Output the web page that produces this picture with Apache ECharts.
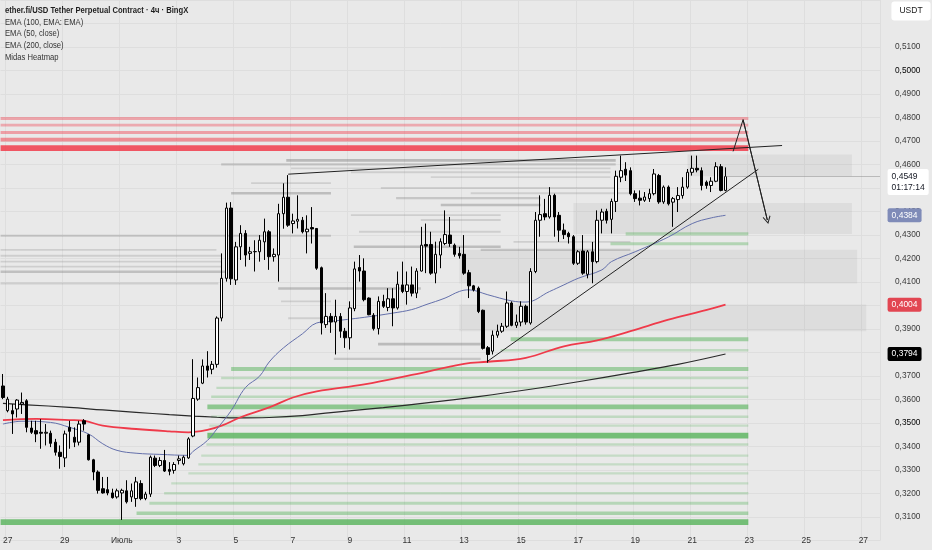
<!DOCTYPE html>
<html><head><meta charset="utf-8">
<script src="https://cdn.jsdelivr.net/npm/echarts/dist/echarts.min.js"></script>
<style>html,body{margin:0;padding:0;background:#e9e9e9}#c{width:932px;height:550px}</style>
</head><body><div id="c"></div>
<script>
// ---------- DATA ----------
// 4h candles starting 26 Jun 20:00, rows: [open, high, low, close]
const ohlc = [
[.3658,.3709,.3602,.3609],[.3553,.3612,.3546,.3602],[.3553,.3581,.3454,.3539],[.3560,.3602,.3524,.3598],
[.3581,.3630,.3539,.3588],[.3595,.3602,.3461,.3482],[.3479,.3510,.3454,.3461],[.3468,.3510,.3419,.3454],
[.3461,.3517,.3391,.3457],[.3457,.3496,.3405,.3461],[.3457,.3468,.3398,.3414],[.3419,.3433,.3362,.3376],
[.3376,.3405,.3306,.3358],[.3352,.3468,.3313,.3454],[.3482,.3510,.3391,.3465],[.3440,.3482,.3398,.3419],
[.3419,.3510,.3405,.3496],[.3510,.3517,.3468,.3496],[.3450,.3454,.3341,.3344],[.3344,.3348,.3257,.3292],
[.3292,.3299,.3200,.3214],[.3221,.3271,.3200,.3203],[.3217,.3271,.3193,.3203],[.3203,.3221,.3179,.3183],
[.3186,.3221,.3179,.3212],[.3203,.3221,.3088,.3214],[.3212,.3257,.3158,.3165],[.3186,.3243,.3165,.3212],
[.3179,.3271,.3144,.3250],[.3243,.3257,.3172,.3179],[.3179,.3208,.3172,.3198],[.3198,.3362,.3186,.3355],
[.3351,.3362,.3313,.3320],[.3320,.3355,.3313,.3341],[.3341,.3386,.3292,.3296],[.3303,.3334,.3278,.3295],
[.3299,.3334,.3285,.3324],[.3341,.3362,.3324,.3348],[.3327,.3362,.3320,.3355],[.3352,.3440,.3348,.3433],
[.3445,.3772,.3440,.3605],[.3602,.3694,.3595,.3651],[.3670,.3771,.3666,.3743],[.3743,.3806,.3694,.3725],
[.3729,.3764,.3708,.3750],[.3750,.3954,.3736,.3947],[.3947,.4222,.3933,.4116],[.4116,.4438,.4102,.4415],
[.4415,.4440,.4088,.4114],[.4109,.4271,.4088,.4250],[.4250,.4342,.4194,.4307],[.4307,.4321,.4166,.4215],
[.4222,.4250,.4194,.4229],[.4229,.4278,.4145,.4230],[.4229,.4300,.4187,.4278],[.4271,.4370,.4194,.4314],
[.4314,.4321,.4152,.4208],[.4208,.4243,.4187,.4218],[.4215,.4433,.4102,.4391],[.4391,.4520,.4327,.4461],
[.4461,.4555,.4335,.4342],[.4349,.4391,.4307,.4360],[.4359,.4469,.4328,.4367],[.4363,.4377,.4307,.4314],
[.4314,.4384,.4222,.4325],[.4332,.4419,.4264,.4326],[.4328,.4330,.4152,.4159],[.4161,.4166,.3877,.3926],
[.3919,.4053,.3905,.3954],[.3954,.3968,.3884,.3930],[.3930,.4025,.3792,.3954],[.3954,.3968,.3863,.3891],
[.3891,.3905,.3820,.3863],[.3863,.4018,.3813,.3990],[.3987,.4187,.3976,.4156],[.4162,.4215,.4102,.4147],
[.4147,.4201,.4018,.4025],[.4032,.4035,.3959,.3961],[.3959,.3968,.3894,.3902],[.3902,.4039,.3877,.4018],
[.4018,.4046,.3990,.3997],[.3992,.4074,.3976,.4029],[.4029,.4074,.3912,.3990],[.3990,.4145,.3983,.4091],
[.4088,.4187,.4053,.4060],[.4060,.4145,.4004,.4088],[.4088,.4166,.4039,.4053],[.4053,.4159,.4032,.4147],
[.4147,.4335,.4145,.4257],[.4260,.4349,.4138,.4253],[.4260,.4314,.4131,.4138],[.4138,.4272,.4095,.4218],
[.4215,.4286,.4159,.4272],[.4264,.4405,.4257,.4302],[.4300,.4377,.4250,.4264],[.4257,.4264,.4208,.4218],
[.4222,.4250,.4200,.4212],[.4218,.4300,.4131,.4138],[.4140,.4152,.4032,.4084],[.4084,.4088,.4060,.4067],
[.4074,.4081,.3968,.3975],[.3980,.3983,.3813,.3818],[.3821,.3828,.3757,.3792],[.3806,.3894,.3792,.3874],
[.3874,.3919,.3863,.3891],[.3891,.3926,.3884,.3912],[.3912,.4060,.3905,.4011],[.4011,.4018,.3912,.3916],
[.3916,.3962,.3905,.3930],[.3930,.4018,.3912,.3997],[.3997,.4004,.3919,.3930],[.3926,.4159,.3919,.4145],
[.4145,.4398,.4138,.4363],[.4363,.4469,.4293,.4387],[.4391,.4454,.4363,.4377],[.4377,.4504,.4370,.4469],
[.4469,.4476,.4293,.4377],[.4384,.4398,.4271,.4321],[.4321,.4349,.4283,.4302],[.4307,.4314,.4264,.4293],
[.4293,.4300,.4173,.4180],[.4180,.4236,.4173,.4229],[.4232,.4300,.4131,.4138],[.4133,.4236,.4116,.4229],
[.4229,.4271,.4095,.4187],[.4187,.4405,.4180,.4363],[.4363,.4412,.4307,.4398],[.4401,.4412,.4349,.4363],
[.4367,.4455,.4307,.4443],[.4443,.4574,.4398,.4550],[.4546,.4638,.4525,.4574],[.4580,.4610,.4530,.4555],
[.4574,.4588,.4469,.4476],[.4476,.4490,.4441,.4455],[.4457,.4490,.4426,.4448],[.4448,.4483,.4441,.4462],
[.4455,.4497,.4441,.4476],[.4476,.4581,.4469,.4560],[.4553,.4560,.4433,.4441],[.4441,.4511,.4433,.4504],
[.4504,.4511,.4426,.4433],[.4440,.4462,.4335,.4455],[.4451,.4504,.4398,.4468],[.4468,.4546,.4455,.4504],
[.4504,.4581,.4497,.4567],[.4567,.4638,.4553,.4584],[.4584,.4638,.4567,.4577],[.4574,.4588,.4490,.4511],
[.4525,.4532,.4497,.4511],[.4511,.4546,.4483,.4529],[.4529,.4610,.4525,.4591],[.4591,.4602,.4486,.4490],
[.4490,.4588,.4486,.4549]
];
const slotCount = 185;                 // candle slots shown incl. empty future
const tickLabels = ['27','29','Июль','3','5','7','9','11','13','15','17','19','21','23','25','27'];
const tickFirst = 1, tickStep = 12;    // first labelled slot, slots between labels
// EMA readings [slot, value]
const ema50 = [[0,.3496],[4,.3508],[10,.3503],[14,.3482],[18,.3454],[21,.3412],[24,.3384],[28,.3372],[33,.3367],[39,.3363],[40,.3380],[43,.3426],[45,.3475],[48,.3553],[51,.3651],[54,.3700],[56,.3760],[59,.3820],[63,.3880],[66,.3926],[69,.3933],[76,.3950],[82,.3968],[86,.3983],[89,.4004],[93,.4032],[96,.4060],[98,.4067],[102,.4046],[107,.4020],[110,.4015],[115,.4060],[118,.4088],[121,.4116],[126,.4152],[128,.4187],[133,.4229],[140,.4292],[145,.4349],[149,.4373],[152,.4384]];
const ema100 = [[0,.3513],[7,.3518],[14,.3513],[17,.3510],[21,.3489],[28,.3475],[35,.3465],[39,.3461],[43,.3471],[46,.3489],[50,.3525],[56,.3567],[61,.3609],[66,.3635],[76,.3665],[86,.3705],[97,.3752],[102,.3761],[110,.3778],[118,.3827],[125,.3852],[132,.3891],[140,.3940],[147,.3976],[152,.4004]];
const ema200 = [[0,.3584],[5,.3578],[14,.3567],[21,.3556],[28,.3546],[35,.3536],[40,.3530],[45,.3525],[49,.3522],[56,.3524],[63,.3532],[69,.3545],[80,.3566],[90,.3588],[100,.3613],[111,.3644],[121,.3676],[132,.3714],[142,.3750],[152,.3794]];
// heatmap levels [price, fromSlot, toSlot, strength]
const redLevels = [[.4796,-0.5,156.8,.3],[.4768,-0.5,156.8,.25],[.4736,-0.5,156.8,.35],[.4706,-0.5,156.8,.5],[.4670,-0.5,156.8,1]];
const greenLevels = [[.4305,131,156.8,.35],[.4263,127.8,156.8,.35],[.3857,106.8,156.8,.55],[.3810,104.7,156.8,.2],
 [.3730,48,156.8,.55],[.3692,45.9,156.8,.2],[.3650,44.9,156.8,.2],[.3612,43.8,156.8,.25],[.3569,43,156.8,.75],
 [.3527,43.8,156.8,.2],[.3489,43.4,156.8,.15],[.3447,43,156.8,1],[.3409,42.8,156.8,.2],[.3362,41.7,156.8,.15],
 [.3324,41.1,156.8,.15],[.3286,39,156.8,.15],[.3244,35.4,156.8,.15],[.3202,33.9,156.8,.2],[.3159,30.8,156.8,.3],
 [.3117,28.1,156.8,.45],[.3079,-0.5,156.8,1]];
const grayLevels = [[.4618,59.6,128.9,.7],[.4601,45.9,128.9,.45],[.4584,60.6,127.8,.3],[.4567,73.2,127.8,.3],
 [.4546,90,127.8,.25],[.4521,52.2,69,.3],[.4500,79.5,128.9,.3],[.4478,48,69,.6],[.4478,98.4,132,.3],
 [.4457,82.7,113.1,.45],[.4428,92.1,113.1,.6],[.4385,73.2,104.7,.3],[.4364,87.9,104.7,.3],[.4314,74.9,104.7,.3],
 [.4297,-0.5,69,.45],[.4271,107.4,132,.3],[.4250,73.8,104.7,.6],[.4237,-0.5,44.9,.3],[.4237,100.5,132,.45],
 [.4212,-0.5,45.9,.3],[.4187,-0.5,45.9,.3],[.4166,-0.5,45.9,.3],[.4144,-0.5,47,.55],[.4094,-0.5,45.3,.3],
 [.4073,57.9,87.9,.6],[.4018,58.5,69,.3],[.3946,60,69,.3],[.3836,78.9,100.5,.65],[.3773,69.6,100.5,.45]];
// grey zones [topPrice, bottomPrice, fromSlot, toSlot]
const zones = [[.4643,.4550,144,178.6],[.4436,.4305,120,178.6],[.4237,.4094,96,179.7],[.4005,.3891,96,181.6]];
// drawn lines [slot, price]
const upperTrend = [[60,.4559],[163.9,.4681]];
const lowerTrend = [[102,.3764],[158.9,.4580]];
const arrowPath = [[153.6,.4656],[155.7,.4791],[160.8,.4364]];
// last values
const lastPrice = .4549, countdown = '01:17:14';
const lastEma50 = .4384, lastEma100 = .4004, lastEma200 = .3794;

// ---------- CHART ----------
const FONT = "'Liberation Sans',Arial,sans-serif";
const fmt = v => v.toFixed(4).replace('.', ',');
const start = Date.UTC(2025,5,26,20);
const categories = Array.from({length: slotCount}, (_, i) => {
  const d = new Date(start + i*4*3600e3);
  return (d.getUTCMonth()+1) + '-' + d.getUTCDate() + ' ' + d.getUTCHours() + ':00';
});
const isTick = i => i >= tickFirst && (i - tickFirst) % tickStep === 0;
const candleData = ohlc.map(r => [r[0], r[3], r[2], r[1]]);

function levelSeries(data, rgb, a0, aGain, h0, hGain) {
  return {
    type: 'custom', xAxisIndex: 1, yAxisIndex: 0, clip: true, silent: true, z: 1,
    encode: {x: [1, 2], y: 0}, data,
    renderItem: (params, api) => {
      const p = api.value(0), s = api.value(1), e = api.value(2), w = api.value(3);
      const a = api.coord([s, p]), b = api.coord([e, p]);
      const h = h0 + hGain * w;
      return {type: 'rect', shape: {x: a[0], y: a[1] - h/2, width: b[0] - a[0], height: h},
              style: {fill: 'rgba(' + rgb + ',' + (a0 + aGain * w) + ')'}};
    }
  };
}
function priceTag(v, bg, color, labelExtra) {
  return {
    coord: [184.4, v], symbol: 'circle', symbolSize: 0.1, itemStyle: {color: 'rgba(0,0,0,0)'},
    label: Object.assign({show: true, position: 'right', distance: 8, formatter: fmt(v), backgroundColor: bg, color,
            padding: [3, 4, 2, 4], fontSize: 8.5, fontFamily: FONT, borderRadius: 2}, labelExtra || {})
  };
}

const chart = echarts.init(document.getElementById('c'), null, {renderer: 'canvas'});
chart.setOption({
  animation: false,
  backgroundColor: '#e9e9e9',
  textStyle: {fontFamily: FONT},
  grid: {left: -1, right: 52, top: -3.3, bottom: 9.35, containLabel: false},
  xAxis: [{
    type: 'category', data: categories, boundaryGap: true, offset: -10,
    axisLine: {show: false}, axisTick: {show: false},
    axisLabel: {interval: (i) => isTick(i), formatter: (v, i) => isTick(i) ? tickLabels[(i - tickFirst)/tickStep] : '',
                color: '#333', fontSize: 8.5, margin: 6, fontFamily: FONT},
    splitLine: {show: true, interval: (i) => isTick(i), lineStyle: {color: '#dedede', width: 1}}
  }, {
    type: 'value', min: -0.5, max: slotCount - 0.5, show: false
  }],
  yAxis: [{
    type: 'value', position: 'right', min: 0.30, max: 0.53, interval: 0.01, scale: true,
    axisLine: {show: false}, axisTick: {show: false},
    axisLabel: {margin: 15, color: '#3a3a3a', fontSize: 8.3, fontFamily: FONT,
      formatter: v => (v < 0.305 || v > 0.515) ? '' :
        ((Math.abs(v - 0.5) < 1e-6 || Math.abs(v - 0.35) < 1e-6) ? '{b|' + fmt(v) + '}' : fmt(v)),
      rich: {b: {color: '#000', fontSize: 8.3, fontFamily: FONT}}},
    splitLine: {show: true, lineStyle: {color: '#dedede', width: 1}}
  }],
  graphic: [
    {type: 'text', x: 5, y: 5, scaleX: 0.85, silent: true, z: 100, style: {
      text: '{t|ether.fi/USD Tether Perpetual Contract · 4ч · BingX}\n{n|EMA (100, EMA: EMA)}\n{n|EMA (50, close)}\n{n|EMA (200, close)}\n{n|Midas Heatmap}',
      rich: {t: {fontSize: 9, fontWeight: 'bold', fill: '#1e1e1e', lineHeight: 11.6, fontFamily: FONT},
             n: {fontSize: 9, fill: '#333', lineHeight: 11.6, fontFamily: FONT}}}},
    {type: 'text', x: 911, y: 11, silent: true, z: 100, style: {
      text: 'USDT', align: 'center', verticalAlign: 'middle', fontSize: 8.5, fontFamily: FONT, fill: '#222',
      backgroundColor: '#fff', padding: [5, 8, 5, 8], borderRadius: 3}}
  ],
  series: [
    { // zones
      type: 'custom', xAxisIndex: 1, yAxisIndex: 0, clip: true, silent: true, z: 1,
      encode: {x: [2, 3], y: [0, 1]}, data: zones,
      renderItem: (params, api) => {
        const a = api.coord([api.value(2), api.value(0)]), b = api.coord([api.value(3), api.value(1)]);
        return {type: 'rect', shape: {x: a[0], y: a[1], width: b[0] - a[0], height: b[1] - a[1]},
                style: {fill: 'rgba(120,120,120,0.10)'}};
      }
    },
    levelSeries(grayLevels, '110,110,110', 0.08, 0.45, 1.2, 2.2),
    levelSeries(redLevels, '242,54,69', 0.2, 0.62, 1.6, 4.2),
    levelSeries(greenLevels, '76,175,80', 0.14, 0.6, 1.6, 4.2),
    {type: 'line', name: 'EMA200', xAxisIndex: 1, data: ema200, smooth: 0.4, showSymbol: false, silent: true, z: 3,
     lineStyle: {color: '#2a2a2a', width: 1.2},
     markPoint: {silent: true, data: [priceTag(lastEma200, '#000', '#fff')]}},
    {type: 'line', name: 'EMA100', xAxisIndex: 1, data: ema100, smooth: 0.4, showSymbol: false, silent: true, z: 3,
     lineStyle: {color: '#ef3a4a', width: 1.8},
     markPoint: {silent: true, data: [priceTag(lastEma100, '#e24652', '#fff')]}},
    {type: 'line', name: 'EMA50', xAxisIndex: 1, data: ema50, smooth: 0.4, showSymbol: false, silent: true, z: 3,
     lineStyle: {color: '#6470ab', width: 1},
     markPoint: {silent: true, data: [priceTag(lastEma50, '#7f8bb8', '#fff')]}},
    {type: 'candlestick', xAxisIndex: 0, yAxisIndex: 0, data: candleData, barWidth: 3, silent: true, z: 4,
     itemStyle: {color: '#ffffff', color0: '#000000', borderColor: '#000000', borderColor0: '#000000', borderWidth: 1}},
    {type: 'line', xAxisIndex: 1, data: upperTrend, showSymbol: false, silent: true, z: 5,
     lineStyle: {color: '#222', width: 1}},
    {type: 'line', xAxisIndex: 1, data: lowerTrend, showSymbol: false, silent: true, z: 5,
     lineStyle: {color: '#222', width: 1},
     markLine: {silent: true, symbol: 'none', label: {show: false},
       lineStyle: {color: '#8a8a8a', type: 'dotted', width: 1},
       data: [[{coord: [152, lastPrice]}, {coord: [slotCount - 0.5, lastPrice]}]]},
     markPoint: {silent: true, data: [priceTag(lastPrice, '#ffffff', '#131722', {
       offset: [0, 5.5], formatter: fmt(lastPrice) + '\n' + countdown, lineHeight: 11, padding: [2, 4, 2, 4]})]}},
    {type: 'line', xAxisIndex: 1, data: arrowPath, showSymbol: false, silent: true, z: 5,
     lineStyle: {color: '#222', width: 1}},
    {type: 'lines', coordinateSystem: 'cartesian2d', xAxisIndex: 1, yAxisIndex: 0, silent: true, z: 6,
     symbol: ['none', 'path://M5,0 L10,9 L9,10 L5,2.6 L1,10 L0,9 Z'], symbolSize: [8, 8],
     lineStyle: {color: '#222', width: 1, opacity: 1},
     data: [{coords: [arrowPath[1], arrowPath[2]]}]}
  ]
});
</script></body></html>
